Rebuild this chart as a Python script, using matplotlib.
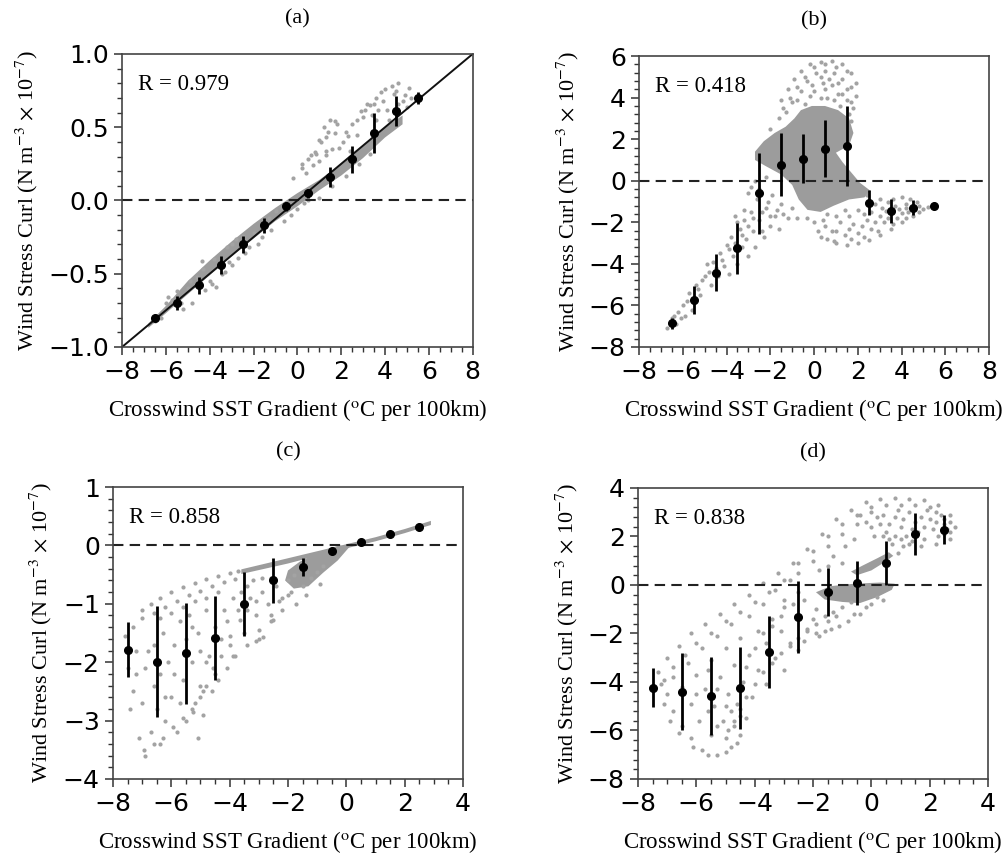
import numpy as np
import matplotlib
matplotlib.use("Agg")
import matplotlib.pyplot as plt
from matplotlib.ticker import MultipleLocator

plt.rcParams['font.family'] = ['DejaVu Sans']
plt.rcParams['mathtext.fontset'] = 'stix'

# --- binned means with spread (black points) ---
xa = [-6.5, -5.5, -4.5, -3.5, -2.5, -1.5, -0.5, 0.5, 1.5, 2.5, 3.5, 4.5, 5.5]
ya = [-0.80, -0.70, -0.58, -0.44, -0.30, -0.17, -0.04, 0.05, 0.16, 0.28, 0.46, 0.61, 0.70]
ea = [0.02, 0.05, 0.06, 0.06, 0.06, 0.05, 0.03, 0.03, 0.07, 0.095, 0.135, 0.10, 0.04]

xb = xa
yb = [-6.87, -5.73, -4.42, -3.25, -0.61, 0.77, 1.07, 1.54, 1.68, -1.05, -1.46, -1.29, -1.22]
eb = [0.25, 0.66, 0.90, 1.23, 1.93, 1.52, 1.18, 1.38, 1.94, 0.60, 0.56, 0.36, 0.05]

xc = [-7.5, -6.5, -5.5, -4.5, -3.5, -2.5, -1.5, -0.5, 0.5, 1.5, 2.5]
yc = [-1.79, -1.99, -1.85, -1.59, -1.00, -0.60, -0.37, -0.10, 0.05, 0.19, 0.32]
ec = [0.47, 0.95, 0.87, 0.72, 0.55, 0.38, 0.16, 0.05, 0.02, 0.02, 0.02]

xd = xc
yd = [-4.23, -4.40, -4.57, -4.23, -2.77, -1.32, -0.29, 0.08, 0.91, 2.10, 2.28]
ed = [0.80, 1.60, 1.62, 1.69, 1.47, 1.48, 0.98, 0.89, 0.92, 0.86, 0.60]

r_values = ['0.979', '0.418', '0.858', '0.838']
panel_tags = ['(a)', '(b)', '(c)', '(d)']

# --- grey point clouds (dense cores as outlines) ---
a_core = [(-6.8, -0.84), (-6.0, -0.72), (-5.0, -0.55), (-4.0, -0.41), (-3.0, -0.28),
          (-2.0, -0.16), (-1.0, -0.05), (0.0, 0.05), (1.0, 0.14), (2.0, 0.25),
          (3.0, 0.37), (4.0, 0.50), (4.8, 0.58), (4.8, 0.52), (4.0, 0.43),
          (3.0, 0.29), (2.0, 0.17), (1.0, 0.07), (0.0, -0.04), (-1.0, -0.14),
          (-2.0, -0.26), (-3.0, -0.38), (-4.0, -0.51), (-5.0, -0.64), (-6.0, -0.77),
          (-6.8, -0.87)]
a_dots = [(-0.2, 0.15), (0.2, 0.22), (0.5, 0.28), (0.8, 0.33), (1.1, 0.40), (1.4, 0.47),
          (1.7, 0.54), (1.2, 0.50), (1.5, 0.55), (1.8, 0.52), (1.7, 0.46), (0.84, 0.32),
          (1.3, 0.34), (1.9, 0.36), (2.4, 0.34), (2.7, 0.45), (3.0, 0.57), (3.3, 0.65),
          (3.6, 0.70), (2.7, 0.55), (3.2, 0.66), (3.8, 0.74), (4.3, 0.78), (4.6, 0.80),
          (3.9, 0.68), (4.4, 0.73), (5.1, 0.77), (4.8, 0.68), (5.0, 0.64), (0.2, 0.25),
          (0.6, 0.31), (1.0, 0.41), (1.3, 0.43), (2.1, 0.40), (2.3, 0.44), (3.7, 0.62),
          (4.1, 0.62), (4.6, 0.66), (-6.48, -0.82), (-5.71, -0.68), (-4.5, -0.57),
          (-4.34, -0.41), (-3.73, -0.59), (-3.43, -0.50), (-2.97, -0.30), (-2.21, -0.32),
          (-1.6, -0.25), (-0.99, -0.07), (-0.38, -0.05), (-5.5, -0.62), (-4.9, -0.55),
          (-4.3, -0.47), (-3.8, -0.40), (-3.2, -0.32), (-2.8, -0.26), (-6.0, -0.70),
          (-4.8, -0.70), (-5.2, -0.74), (-4.2, -0.61), (-3.9, -0.57), (-3.0, -0.44),
          (-2.7, -0.39), (-3.3, -0.49), (-0.3, -0.10), (0.0, -0.06),
          (0.4, 0.19), (0.7, 0.24), (1.0, 0.27), (1.3, 0.31), (1.6, 0.35), (2.2, 0.47),
          (2.5, 0.52), (2.9, 0.61), (3.1, 0.62), (3.5, 0.66), (3.4, 0.58), (3.6, 0.55),
          (4.0, 0.76), (4.5, 0.75), (4.9, 0.72), (5.2, 0.70), (4.2, 0.55), (4.5, 0.60),
          (-6.2, -0.80), (-5.9, -0.66), (-5.3, -0.70), (-5.0, -0.60), (-4.6, -0.52),
          (-4.0, -0.55), (-3.6, -0.44), (-3.1, -0.42), (-2.5, -0.24), (-2.4, -0.36),
          (-2.0, -0.22), (-1.8, -0.30), (-1.3, -0.12), (-1.2, -0.20), (-0.7, -0.05),
          (-0.6, -0.14), (0.3, -0.02), (0.5, 0.00), (1.0, 0.02), (1.6, 0.10),
          (2.2, 0.17), (2.8, 0.25), (3.3, 0.32)]

b_core = [(-2.7, 1.4), (-2.3, 1.9), (-1.8, 2.3), (-1.3, 2.6), (-0.9, 3.0), (-0.6, 3.4),
          (-0.1, 3.6), (0.5, 3.6), (1.1, 3.4), (1.6, 3.0), (1.8, 2.3), (1.6, 1.7),
          (1.0, 1.35), (1.3, 0.9), (1.7, 0.4), (2.1, -0.1), (2.6, -0.5), (2.3, -0.8),
          (1.6, -0.9), (0.9, -1.2), (0.3, -1.5), (-0.3, -1.4), (-0.7, -0.9),
          (-1.0, -0.2), (-1.5, 0.3), (-2.2, 0.7), (-2.7, 1.0)]
b_dots = [(-1.5, 3.9), (-1.2, 4.4), (-0.9, 4.9), (-0.6, 5.3), (-0.2, 5.6), (0.3, 5.7),
          (0.8, 5.75), (1.3, 5.6), (1.7, 5.2), (1.9, 4.7), (1.9, 4.1), (1.8, 3.5),
          (1.7, 2.9), (-1.0, 3.8), (-0.6, 4.3), (-0.3, 4.8), (0.1, 5.2), (0.5, 5.3),
          (0.9, 5.2), (1.3, 4.9), (1.5, 4.4), (1.5, 3.9), (-0.4, 3.7), (0.0, 4.3),
          (0.4, 4.7), (0.8, 4.6), (1.1, 4.2), (1.2, 3.6), (0.6, 4.0), (-1.3, 3.3),
          (-1.6, 3.0), (-2.0, 2.5),
          (-1.4, 3.5), (-1.1, 4.0), (-0.8, 4.5), (-0.4, 5.0), (0.0, 5.5), (0.5, 5.6),
          (1.0, 5.5), (1.5, 5.3), (1.7, 4.5), (1.7, 3.8), (-0.8, 3.9), (-0.2, 4.1),
          (0.3, 4.0), (0.9, 3.9), (0.3, 5.0), (0.7, 4.9), (1.1, 4.7), (-0.1, 4.6),
          (0.5, 4.4), (1.3, 4.2), (1.6, 3.2),
          (-6.7, -7.1), (-6.5, -6.6), (-6.3, -6.9), (-6.2, -6.3), (-6.0, -6.0),
          (-5.9, -6.5), (-5.7, -5.4), (-5.5, -5.9), (-5.4, -5.0), (-5.2, -5.5),
          (-5.0, -4.6), (-4.9, -4.0), (-4.7, -5.0), (-4.6, -3.9), (-4.4, -4.6),
          (-4.3, -3.5), (-4.1, -4.1), (-4.0, -3.1), (-3.9, -4.5), (-3.8, -2.7),
          (-3.7, -3.6), (-3.5, -4.0), (-3.4, -2.3), (-3.3, -3.2), (-3.2, -1.9),
          (-3.1, -2.8), (-3.0, -3.6), (-2.9, -1.5), (-2.8, -2.4), (-2.7, -3.2),
          (-2.6, -0.9), (-2.5, -1.9), (-2.3, -2.7), (-2.2, -1.3), (-2.0, -2.2),
          (-1.9, -0.7), (-1.8, -1.7), (-1.6, -2.3), (-1.5, -1.1), (-1.2, -1.8),
          (-1.0, -1.3), (-0.8, -1.8), (-3.6, -1.7), (-3.0, -0.6), (-2.7, 0.0),
          (-6.4, -6.5), (-6.1, -6.6), (-5.8, -5.8), (-5.6, -6.2), (-5.3, -5.2),
          (-5.1, -4.8), (-4.8, -4.4), (-4.5, -4.2), (-4.2, -3.8), (-3.9, -3.3),
          (-3.6, -3.0), (-3.3, -2.6), (-3.0, -2.2), (-2.8, -1.8), (-2.4, -1.5),
          (-2.1, -1.0), (-1.7, -1.4), (-1.4, -1.6), (-2.4, -2.4), (-2.0, -1.7),
          (-3.5, -2.0), (-3.2, -1.4), (-2.5, -0.4), (-2.9, -0.3), (-2.2, 0.2),
          (0.2, -2.4), (0.6, -2.8), (1.0, -3.0), (1.5, -3.1), (2.0, -3.0), (2.5, -2.85),
          (3.0, -2.6), (3.5, -2.3), (4.0, -2.0), (4.5, -1.7), (5.0, -1.35), (0.8, -2.4),
          (1.4, -2.6), (2.0, -2.5), (2.6, -2.3), (3.2, -2.0), (3.8, -1.8), (4.3, -1.5),
          (1.2, -2.0), (1.8, -2.1), (2.4, -1.9), (3.0, -1.7), (3.6, -1.5), (4.2, -1.3),
          (4.8, -1.2), (2.8, -1.1), (3.4, -1.0), (4.0, -0.8), (4.4, -0.9), (4.7, -1.0),
          (3.1, -1.3), (3.7, -1.2), (2.4, -0.7), (2.0, -1.4), (2.3, -1.6), (1.6, -1.7),
          (0.4, -1.9), (0.0, -2.0), (-0.3, -1.8),
          (1.0, -2.4), (1.6, -2.3), (2.2, -2.2), (2.8, -2.0), (3.4, -1.8), (4.0, -1.55),
          (4.6, -1.35), (5.2, -1.25), (0.5, -2.2), (0.3, -2.7), (0.9, -2.9), (1.7, -2.8),
          (2.3, -2.7), (2.9, -2.4), (3.6, -2.1), (4.2, -1.8), (4.8, -1.5), (3.0, -0.9),
          (3.6, -0.9), (4.2, -1.1), (2.6, -1.5), (3.3, -1.45), (3.9, -1.35), (1.4, -1.4),
          (1.0, -1.7), (0.6, -1.6)]

c_core = [(-3.6, -0.41), (-2.0, -0.22), (0.0, 0.02), (1.0, 0.14), (2.0, 0.28),
          (2.9, 0.42), (2.9, 0.35), (2.0, 0.21), (1.0, 0.07), (0.0, -0.05),
          (-2.0, -0.31), (-3.6, -0.49)]
c_core2 = [(-2.0, -0.43), (-1.6, -0.28), (-0.91, -0.11), (-0.23, 0.0), (0.1, -0.03),
           (-0.3, -0.26), (-0.8, -0.47), (-1.3, -0.70), (-1.8, -0.74), (-2.1, -0.6)]
c_dots = [(-7.0, -1.1), (-6.7, -1.0), (-6.4, -0.9), (-6.0, -0.8), (-5.6, -0.72),
          (-5.2, -0.65), (-4.8, -0.58), (-4.4, -0.52), (-4.0, -0.47), (-3.7, -0.44),
          (-7.3, -1.4), (-7.0, -1.25), (-6.6, -1.15), (-6.2, -1.05), (-5.8, -0.95),
          (-5.4, -0.85), (-5.0, -0.78), (-4.6, -0.70), (-4.2, -0.63), (-3.8, -0.57),
          (-7.6, -1.55), (-7.5, -2.1), (-7.4, -2.8), (-7.2, -2.2), (-7.0, -2.7),
          (-7.1, -3.3), (-6.9, -3.6), (-6.7, -3.2), (-6.5, -2.8), (-6.8, -1.8),
          (-6.6, -2.4), (-6.4, -3.4), (-6.2, -3.0), (-6.0, -2.6), (-6.3, -1.5),
          (-6.1, -2.0), (-5.9, -1.7), (-5.8, -3.2), (-5.6, -2.3), (-5.5, -3.0),
          (-5.3, -2.0), (-5.2, -2.7), (-5.0, -2.4), (-5.7, -1.3), (-5.4, -1.2),
          (-5.1, -1.5), (-4.8, -1.1), (-4.7, -1.9), (-4.5, -2.2), (-4.3, -1.6),
          (-4.1, -1.3), (-3.9, -1.9), (-3.7, -1.1), (-3.5, -1.5), (-3.3, -0.9),
          (-3.1, -1.2), (-2.9, -0.8), (-2.7, -1.0), (-2.4, -0.7), (-2.2, -0.9),
          (-2.0, -0.85), (-2.6, -1.3), (-3.0, -1.6), (-4.0, -1.7), (-4.6, -2.5),
          (-4.9, -2.9), (-5.1, -3.3), (-5.26, -2.85), (-5.0, -2.6), (-4.8, -2.4),
          (-4.57, -2.1), (-4.3, -1.9), (-4.0, -1.55), (-3.66, -1.28), (-3.4, -1.1),
          (-3.1, -0.95), (-2.86, -1.57), (-2.51, -1.28), (-2.2, -1.1), (-1.71, -1.0),
          (-1.4, -0.85), (-0.91, -0.66), (-3.09, -1.63), (-2.0, -0.6), (-1.8, -0.5),
          (-6.95, -3.5), (-6.6, -3.4), (-6.3, -3.3), (-5.94, -3.11), (-5.6, -2.95),
          (-5.3, -2.8), (-4.9, -2.5), (-4.4, -2.3), (-4.1, -2.1), (-3.8, -1.9),
          (-3.4, -1.7), (-3.0, -1.45), (-2.6, -1.2), (-2.3, -0.95), (-1.9, -0.8),
          (-1.5, -0.7), (-7.3, -2.5), (-7.2, -1.8), (-6.9, -2.1), (-6.6, -1.7),
          (-6.4, -2.2), (-6.2, -2.6), (-5.9, -2.2), (-5.7, -2.7), (-5.5, -1.6),
          (-5.3, -1.4), (-5.0, -1.8), (-4.8, -2.0), (-4.5, -1.4), (-4.2, -1.1),
          (-3.9, -0.9), (-3.6, -0.8), (-3.4, -0.7), (-3.2, -0.6), (-2.9, -0.55),
          (-2.6, -0.55), (-4.4, -0.8), (-4.8, -0.9), (-5.2, -0.95), (-5.6, -1.05),
          (-6.0, -1.15), (-6.4, -1.25), (-1.2, -0.55), (-1.0, -0.45), (-0.8, -0.35)]

d_core = [(-1.9, -0.3), (-1.4, -0.05), (-0.6, 0.05), (0.3, 0.1), (0.8, 0.05),
          (0.7, -0.2), (0.2, -0.5), (-0.4, -0.75), (-1.0, -0.7), (-1.6, -0.6)]
d_core2 = [(-0.7, 0.55), (-0.3, 0.8), (0.2, 1.1), (0.6, 1.35), (0.75, 1.2),
           (0.4, 0.9), (0.0, 0.6), (-0.5, 0.4)]
d_dots = [(-7.3, -3.6), (-7.0, -3.0), (-6.6, -2.5), (-6.2, -2.0), (-5.7, -1.6),
          (-5.2, -1.2), (-4.7, -0.8), (-4.2, -0.4), (-3.7, 0.1), (-3.2, 0.5),
          (-2.7, 0.9), (-2.2, 1.5), (-1.7, 2.1), (-1.2, 2.7), (-0.7, 3.1), (-0.2, 3.4),
          (0.3, 3.55), (0.8, 3.6), (1.3, 3.55), (1.8, 3.5), (2.3, 3.3), (2.7, 2.9),
          (2.85, 2.4), (2.7, 1.9), (2.2, 1.7), (1.7, 1.6),
          (0.8, 2.8), (1.0, 2.4), (1.2, 2.0), (1.3, 3.0), (1.5, 2.6), (1.6, 2.2),
          (1.9, 3.1), (2.0, 2.7), (2.1, 2.3), (2.4, 2.9), (2.5, 2.5), (2.5, 2.1),
          (0.4, 2.9), (0.6, 2.5), (0.8, 2.0), (0.0, 3.0), (0.3, 2.5), (0.6, 1.9),
          (-0.4, 2.9), (0.0, 2.4), (0.4, 2.0), (1.1, 1.6), (0.9, 1.3),
          (-2.5, 0.5), (-2.0, 1.0), (-1.5, 1.6), (-1.0, 2.1), (-0.5, 2.5), (-1.8, 0.6),
          (-1.3, 1.2), (-0.9, 1.6), (-0.6, 1.9), (-2.8, 0.2), (-3.3, -0.2), (-3.0, -0.6),
          (-2.5, -0.3), (-1.5, 0.8), (-1.0, 0.9),
          (-7.0, -4.5), (-6.8, -5.2), (-6.5, -5.8), (-6.2, -6.3), (-5.8, -6.8),
          (-5.3, -7.0), (-4.8, -6.7), (-4.5, -6.2), (-6.8, -3.8), (-6.5, -4.2),
          (-6.2, -4.9), (-5.9, -5.6), (-5.5, -6.2), (-5.0, -6.3), (-4.7, -5.8),
          (-6.3, -3.2), (-6.0, -3.7), (-5.7, -4.3), (-5.4, -5.0), (-5.1, -5.6),
          (-4.8, -5.2), (-5.8, -2.6), (-5.5, -3.1), (-5.2, -3.8), (-4.9, -4.5),
          (-4.6, -4.9), (-4.3, -5.5), (-5.3, -2.1), (-5.0, -2.6), (-4.7, -3.3),
          (-4.4, -4.0), (-4.1, -4.6), (-4.8, -1.6), (-4.5, -2.2), (-4.2, -2.9),
          (-3.9, -3.5), (-3.6, -4.1), (-4.2, -1.3), (-3.9, -1.9), (-3.6, -2.4),
          (-3.3, -3.0), (-3.0, -3.5), (-3.7, -0.8), (-3.4, -1.4), (-3.1, -1.9),
          (-2.8, -2.4), (-2.5, -2.7), (-3.0, -0.9), (-2.6, -1.3), (-2.2, -1.8),
          (-1.8, -2.1), (-2.3, -0.6), (-1.9, -1.0), (-1.5, -1.5), (-1.1, -1.7),
          (-0.6, -1.2), (-0.2, -0.9), (0.2, -0.5),
          (-4.7, -5.6), (-4.5, -5.1), (-4.3, -4.6), (-4.0, -4.1), (-3.7, -3.6),
          (-3.4, -3.2), (-3.1, -2.8), (-2.8, -2.5), (-2.5, -2.2), (-2.2, -1.9),
          (-1.9, -1.6), (-1.6, -1.3), (-1.3, -1.1), (-1.0, -0.9), (-0.7, -0.7),
          (-7.1, -3.9), (-6.8, -3.4), (-6.4, -2.9), (-6.0, -2.4), (-5.5, -2.0),
          (-5.0, -1.5), (-4.5, -1.1), (-4.0, -0.7), (-3.5, -0.3), (-3.0, 0.2),
          (-2.5, 0.9), (-2.0, 1.4), (-1.5, 2.0), (-1.0, 2.5), (-0.5, 2.9), (0.0, 3.2),
          (0.5, 3.3), (1.0, 3.3), (1.5, 3.3), (2.0, 3.2), (2.5, 2.7), (2.6, 2.3),
          (2.3, 2.0), (1.8, 1.9), (1.4, 1.8),
          (0.9, 3.1), (1.1, 2.7), (1.4, 2.3), (1.7, 2.8), (1.8, 2.4), (2.2, 2.6),
          (2.2, 3.0), (2.7, 2.6), (2.7, 2.2), (0.2, 2.8), (0.5, 2.2), (0.7, 1.7),
          (-0.2, 2.6), (0.1, 2.0), (1.0, 1.9), (1.3, 1.7),
          (-7.2, -4.1), (-7.1, -4.9), (-6.9, -5.6), (-6.6, -6.1), (-6.1, -6.7),
          (-5.6, -7.0), (-5.0, -6.9), (-4.6, -6.5), (-6.0, -4.5), (-5.6, -5.2),
          (-5.3, -5.8), (-4.9, -6.0), (-5.6, -3.5), (-5.3, -4.3), (-5.0, -5.0),
          (-4.5, -5.4), (-4.3, -3.4), (-4.0, -2.6), (-3.7, -2.0), (-3.4, -1.7),
          (-3.1, -1.3), (-2.7, -0.8), (-2.0, -1.4), (-1.6, -1.9), (-1.2, -1.3),
          (-0.8, -1.5), (-0.4, -1.2), (0.0, -0.8), (0.4, -0.6), (-2.3, -2.3),
          (-1.9, -2.0), (-1.4, -1.8)]

panels = [
    dict(x=xa, y=ya, e=ea, cores=[a_core], dots=a_dots, xlim=(-8, 8), ylim=(-1, 1),
         ymaj=0.5, ymin=0.1, yfmt='{:.1f}', diag=True),
    dict(x=xb, y=yb, e=eb, cores=[b_core], dots=b_dots, xlim=(-8, 8), ylim=(-8, 6),
         ymaj=2, ymin=0.4, yfmt='{:.0f}', diag=False),
    dict(x=xc, y=yc, e=ec, cores=[c_core, c_core2], dots=c_dots, xlim=(-8, 4), ylim=(-4, 1),
         ymaj=1, ymin=0.2, yfmt='{:.0f}', diag=False),
    dict(x=xd, y=yd, e=ed, cores=[d_core, d_core2], dots=d_dots, xlim=(-8, 4), ylim=(-8, 4),
         ymaj=2, ymin=0.4, yfmt='{:.0f}', diag=False),
]

positions = [
    [0.1212, 0.5956, 0.3482, 0.3415],
    [0.6346, 0.5956, 0.3476, 0.3390],
    [0.1122, 0.0921, 0.3476, 0.3403],
    [0.6336, 0.0921, 0.3476, 0.3392],
]

serif = 'Liberation Serif'
cloud_grey = '#a3a3a3'
core_grey = '#9c9c9c'

fig = plt.figure(figsize=(10.07, 8.58), dpi=100)

for i, p in enumerate(panels):
    ax = fig.add_axes(positions[i])
    for core in p['cores']:
        pts = np.array(core)
        ax.fill(pts[:, 0], pts[:, 1], color=core_grey, lw=0, zorder=1)
    dots = np.array(p['dots'])
    ax.scatter(dots[:, 0], dots[:, 1], s=9, color=cloud_grey, lw=0, zorder=1)

    ax.axhline(0, color='#222222', ls=(0, (5, 3)), lw=1.5, zorder=2)
    if p['diag']:
        ax.plot(p['xlim'], p['ylim'], color='#111111', lw=1.4, zorder=2)

    ax.errorbar(p['x'], p['y'], yerr=p['e'], fmt='o', color='black', ms=5.5,
                elinewidth=2.0, capsize=0, zorder=3)

    ax.set_xlim(p['xlim'])
    ax.set_ylim(p['ylim'])
    ax.xaxis.set_major_locator(MultipleLocator(2))
    ax.xaxis.set_minor_locator(MultipleLocator(0.5))
    ax.yaxis.set_major_locator(MultipleLocator(p['ymaj']))
    ax.yaxis.set_minor_locator(MultipleLocator(p['ymin']))
    yt = ax.get_yticks()
    ax.set_yticks(yt)
    ax.set_yticklabels([p['yfmt'].format(v).replace('-', '\u2212') for v in yt])
    ax.set_ylim(p['ylim'])
    ax.tick_params(which='major', direction='out', length=6, width=1.1,
                   labelsize=18, color='#333333')
    ax.tick_params(which='minor', direction='out', length=3.5, width=1.0,
                   color='#333333')
    for s in ax.spines.values():
        s.set_color('#444444')
        s.set_linewidth(1.2)

    ax.set_xlabel('Crosswind SST Gradient ($^{\\rm o}$C per 100km)',
                  family=serif, fontsize=16.5, labelpad=9)
    ax.set_ylabel('Wind Stress Curl (N m$^{-3}$ $\\times$ 10$^{-7}$)',
                  family=serif, fontsize=16, labelpad=6)
    ax.set_title(panel_tags[i], family=serif, fontsize=16, pad=22)
    ax.text(0.046, 0.895, 'R = ' + r_values[i], transform=ax.transAxes,
            family=serif, fontsize=16.5, va='center', ha='left')

fig.savefig('out.png', dpi=100)
